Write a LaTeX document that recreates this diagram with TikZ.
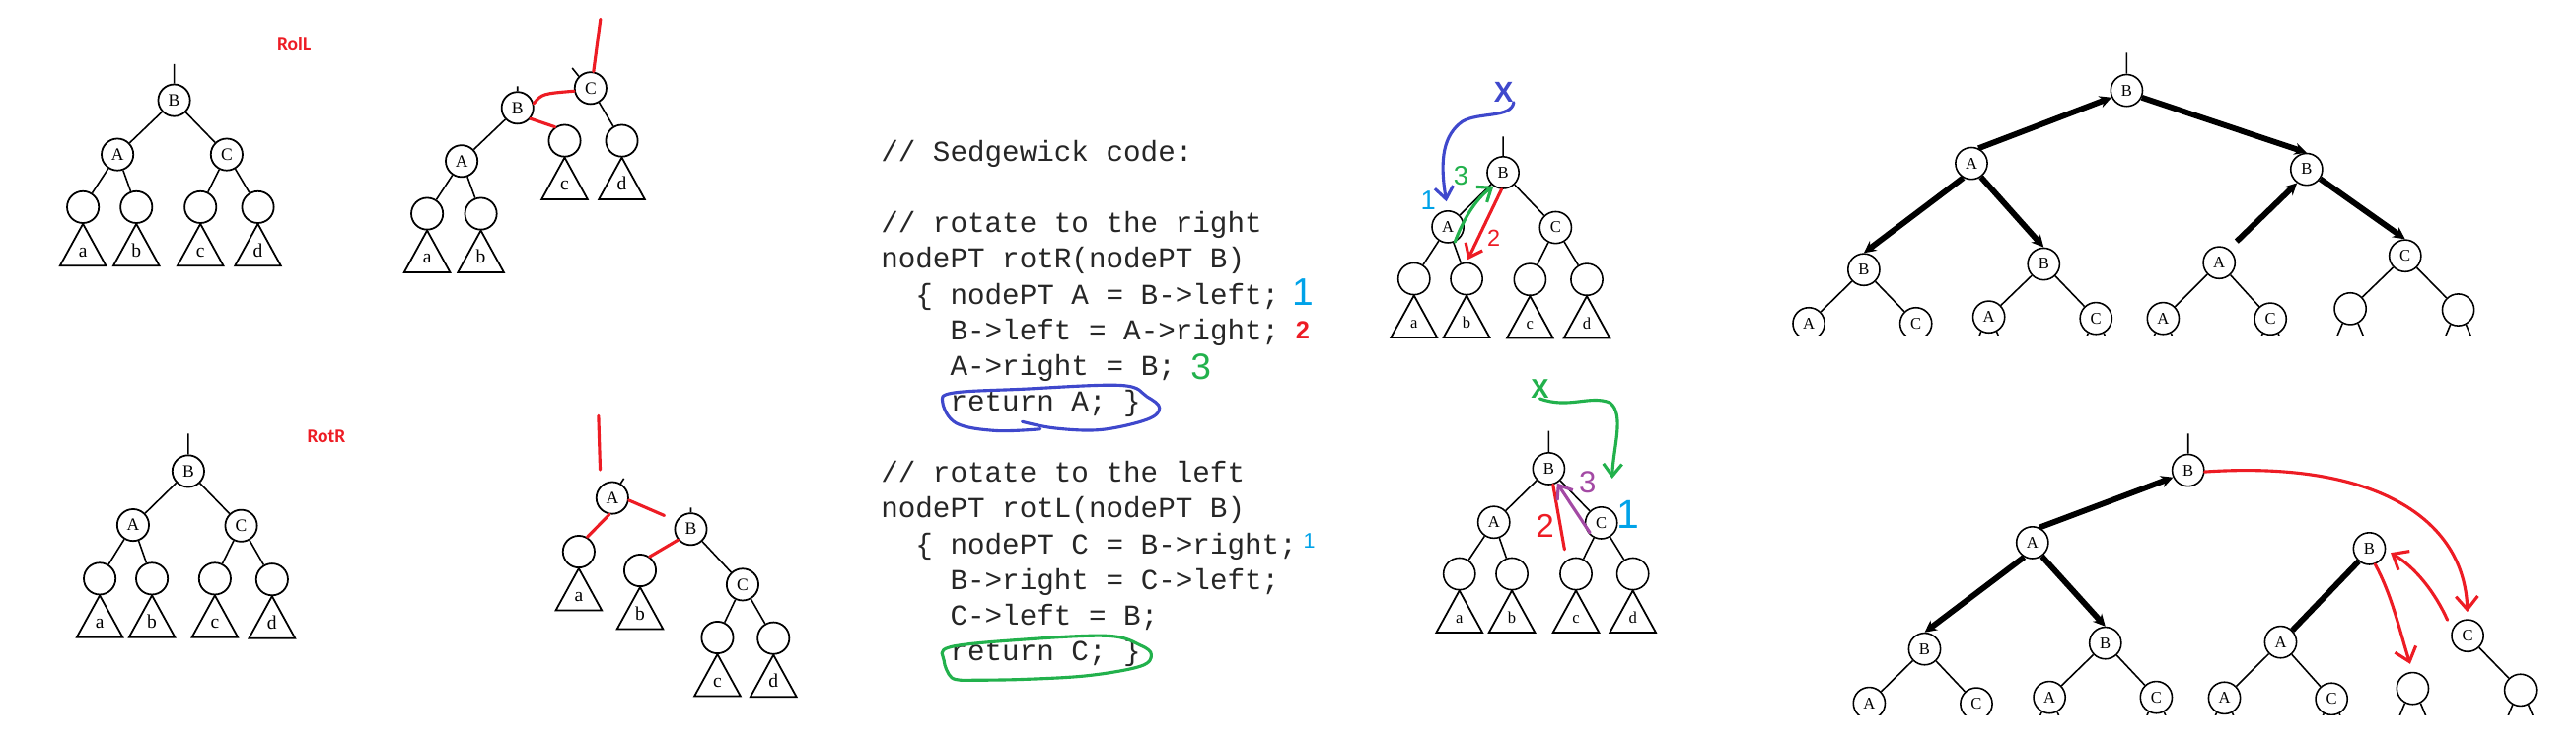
\documentclass[tikz,border=0pt]{standalone}
\usepackage{fontspec}
\setmainfont{Liberation Serif}
\setsansfont{Liberation Sans}
\newfontfamily\codefont{Liberation Mono}
\newfontfamily\tagfont{Carlito}
\usetikzlibrary{arrows.meta,calc}

\definecolor{pred}{RGB}{237,28,36}
\definecolor{pblue}{RGB}{63,72,204}
\definecolor{pcyan}{RGB}{0,162,232}
\definecolor{pgreen}{RGB}{34,177,76}
\definecolor{ppurple}{RGB}{163,73,164}

% triangle subtree under a leaf, with its label
\newcommand\subtri[3]{%
  \draw[tri] (#1.south) -- ++(-14,25.5) -- ++(28,0) -- cycle;
  \node[lbl] (#2) at ($(#1.south)+(0,20)$) {#3};}
% cut-off child links under a bottom node
\newcommand\stubs[1]{\draw[ln] (#1.-118) -- ++(-5,12) (#1.-62) -- ++(5,12);}

\begin{document}
\begin{tikzpicture}[x=0.3mm, y=-0.3mm,
    vx/.style={circle, draw, line width=0.9pt, minimum size=5.8mm, inner sep=0pt, font=\fontsize{9}{9}\selectfont},
    sv/.style={vx, line width=0.8pt, font=\fontsize{8.5}{8.5}\selectfont},
    tri/.style={line width=0.9pt},
    lbl/.style={anchor=base, inner sep=0pt, font=\fontsize{10}{10}\selectfont},
    ln/.style={line width=0.8pt},
    handline/.style={line width=1.6pt, line cap=round, line join=round},
    penarrow/.style={handline, -{Straight Barb[length=2.2mm,width=3.4mm]}},
    fatarrow/.style={line width=3pt, -{Stealth[length=2.2mm,width=2.2mm]}},
    codeline/.style={anchor=base west, inner sep=0pt, font=\codefont\fontsize{15}{18}\selectfont, text=black!85},
    digit/.style={inner sep=0pt, font=\sffamily\fontsize{#1}{#1}\selectfont},
    cross/.style={inner sep=0pt, font=\sffamily\bfseries\fontsize{#1}{#1}\selectfont},
    rlabel/.style={font=\tagfont\bfseries\fontsize{10}{10}\selectfont, text=pred}]

  \useasboundingbox (0,0) rectangle (1568,455);

  % ---- RolL: before
  \node[rlabel] (rolL) at (179,27) {RolL};
  \node[vx] (B1) at (106,61) {B};
  \node[vx] (A1) at (71.5,94) {A};
  \node[vx] (C1) at (138,94) {C};
  \node[vx] (a1) at (50.5,126) {};
  \node[vx] (b1) at (83,126) {};
  \node[vx] (c1) at (122,126) {};
  \node[vx] (d1) at (157,126) {};
  \coordinate (r1) at (106,39);
  \draw[ln] (r1) -- (B1) (B1) -- (A1) (B1) -- (C1) (A1) -- (a1) (A1) -- (b1) (C1) -- (c1) (C1) -- (d1);
  \subtri{a1}{la1}{a} \subtri{b1}{lb1}{b} \subtri{c1}{lc1}{c} \subtri{d1}{ld1}{d}

  % ---- RolL: after
  \node[vx] (C2) at (359.5,53.6) {C};
  \node[vx] (B2) at (315,65.6) {B};
  \node[vx] (A2) at (281,98) {A};
  \node[vx] (c2) at (343.7,85.6) {};
  \node[vx] (d2) at (378.5,85.6) {};
  \node[vx] (a2) at (260,130) {};
  \node[vx] (b2) at (292.7,130) {};
  \coordinate (r2) at (365.5,11.6);
  \draw[ln] (B2) -- (A2) (A2) -- (a2) (A2) -- (b2) (C2) -- (d2);
  \draw[ln] (C2.135) -- ++(-4,-5) (B2.north) -- ++(0,-3);
  \subtri{a2}{la2}{a} \subtri{b2}{lb2}{b} \subtri{c2}{lc2}{c} \subtri{d2}{ld2}{d}
  \draw[handline, pred] (r2) -- (C2.80);
  \draw[handline, pred] (B2.15) .. controls (330,57) .. (C2.190);
  \draw[handline, pred] (B2.-40) -- (c2.125);

  % ---- RotR: before
  \node[rlabel] (rotR) at (198.7,265.3) {RotR};
  \node[vx] (B3) at (114.6,286.6) {B};
  \node[vx] (A3) at (81,319.4) {A};
  \node[vx] (C3) at (146.8,319.8) {C};
  \node[vx] (a3) at (60.7,352) {};
  \node[vx] (b3) at (92.5,352) {};
  \node[vx] (c3) at (130.8,352) {};
  \node[vx] (d3) at (165.6,352.5) {};
  \coordinate (r3) at (114.6,263.7);
  \draw[ln] (r3) -- (B3) (B3) -- (A3) (B3) -- (C3) (A3) -- (a3) (A3) -- (b3) (C3) -- (c3) (C3) -- (d3);
  \subtri{a3}{la3}{a} \subtri{b3}{lb3}{b} \subtri{c3}{lc3}{c} \subtri{d3}{ld3}{d}

  % ---- RotR: after
  \node[vx] (A4) at (372.7,302.9) {A};
  \node[vx] (B4) at (420.5,321.9) {B};
  \node[vx] (C4) at (452,355.6) {C};
  \node[vx] (a4) at (352.3,335.6) {};
  \node[vx] (b4) at (389.6,347) {};
  \node[vx] (c4) at (436.7,387.8) {};
  \node[vx] (d4) at (470.8,388.2) {};
  \coordinate (r4a) at (364.3,252.9);
  \coordinate (r4b) at (365.3,285.8);
  \draw[ln] (B4) -- (C4) (C4) -- (c4) (C4) -- (d4);
  \draw[ln] (A4.60) -- ++(2,-3) (B4.north) -- ++(0,-3);
  \subtri{a4}{la4}{a} \subtri{b4}{lb4}{b} \subtri{c4}{lc4}{c} \subtri{d4}{ld4}{d}
  \draw[handline, pred] (r4a) -- (r4b);
  \draw[handline, pred, shorten >=2.4mm] (A4.-8) -- (B4.150);
  \draw[handline, pred] (A4.-100) -- (a4.60);
  \draw[handline, pred] (b4.55) -- (B4.220);

  % ---- code
  \node[codeline] (l1) at (536,98.1) {// Sedgewick code:};
  \node[codeline] (l2) at (536,141.5) {// rotate to the right};
  \node[codeline] (l3) at (536,163.2) {nodePT rotR(nodePT B)};
  \node[codeline] (l4) at (536,184.9) {~~\{ nodePT A = B->left;};
  \node[codeline] (l5) at (536,206.6) {~~~~B->left = A->right;};
  \node[codeline] (l6) at (536,228.3) {~~~~A->right = B;};
  \node[codeline] (l7) at (536,250) {~~~~return A; \}};
  \node[codeline] (l8) at (536,293.4) {// rotate to the left};
  \node[codeline] (l9) at (536,315.1) {nodePT rotL(nodePT B)};
  \node[codeline] (l10) at (536,336.8) {~~\{ nodePT C = B->right;};
  \node[codeline] (l11) at (536,358.5) {~~~~B->right = C->left;};
  \node[codeline] (l12) at (536,380.2) {~~~~C->left = B;};
  \node[codeline] (l13) at (536,401.9) {~~~~return C; \}};
  \node[digit=20, text=pcyan] (n1) at (793,178) {1};
  \node[cross=13, text=pred] (n2) at (793,201) {2};
  \node[digit=19, text=pgreen] (n3) at (731,223) {3};
  \node[digit=11, text=pcyan] (n4) at (797,329) {1};
  \draw[handline, pblue] plot[smooth, tension=0.6] coordinates {(633.2,261) (606.2,262) (582.2,257.5) (573.8,244.8) (580.2,239) (622.2,236.7) (682.2,234.4) (698.2,241.3) (705.8,248.2) (698.2,255.2) (670.2,261.4) (642.2,260.5) (622.2,256.5)};
  \draw[handline, pgreen] plot[smooth, tension=0.6] coordinates {(588.2,413.8) (579.2,412.2) (574.6,401.8) (578.2,393.7) (622.2,389.1) (674.2,386.8) (694.2,392.6) (700.8,398.3) (694.2,405.3) (662.2,411) (622.2,413.3) (588.2,413.8)};

  % ---- rotR traced
  \begin{scope}[lbl/.append style={font=\fontsize{8.5}{8.5}\selectfont}]
  \node[sv] (mB) at (914.9,105) {B};
  \node[sv] (mA) at (881.3,138) {A};
  \node[sv] (mC) at (946.9,138.4) {C};
  \node[sv] (ma) at (860.7,169.6) {};
  \node[sv] (mb) at (892.7,169.6) {};
  \node[sv] (mc) at (931.3,170) {};
  \node[sv] (md) at (965.9,170) {};
  \coordinate (rm) at (914.9,83);
  \draw[ln] (rm) -- (mB) (mB) -- (mA) (mB) -- (mC) (mA) -- (ma) (mA) -- (mb) (mC) -- (mc) (mC) -- (md);
  \subtri{ma}{lma}{a} \subtri{mb}{lmb}{b} \subtri{mc}{lmc}{c} \subtri{md}{lmd}{d}

  % ---- rotL traced
  \node[sv] (nB) at (942.7,285.1) {B};
  \node[sv] (nA) at (909.3,317.7) {A};
  \node[sv] (nC) at (974.7,318.1) {C};
  \node[sv] (na) at (888.3,349.1) {};
  \node[sv] (nb) at (920.3,349.1) {};
  \node[sv] (nc) at (959.3,349.1) {};
  \node[sv] (nd) at (993.9,349.1) {};
  \coordinate (rn) at (942.7,262.1);
  \draw[ln] (rn) -- (nB) (nB) -- (nA) (nB) -- (nC) (nA) -- (na) (nA) -- (nb) (nC) -- (nc) (nC) -- (nd);
  \subtri{na}{lna}{a} \subtri{nb}{lnb}{b} \subtri{nc}{lnc}{c} \subtri{nd}{lnd}{d}
  \end{scope}

  \node[cross=15, text=pblue] (xb) at (915.3,56) {X};
  \node[digit=14, text=pgreen] (m3) at (889.3,107) {3};
  \node[digit=14, text=pcyan] (m1) at (869.3,122) {1};
  \node[digit=12, text=pred] (m2) at (909.3,145) {2};
  \draw[penarrow, pblue, shorten >=1.6mm] (xb.south east) .. controls (920,72) and (900,68) .. (890,74) .. controls (879,82) and (876,96) .. (mA.north);
  \draw[penarrow, pgreen] (mA.-65) .. controls (890,135) and (898,121) .. (mB.235);
  \draw[penarrow, pred, shorten >=0.5mm] (mB.-95) -- (mb.north);

  \node[cross=14, text=pgreen] (xg) at (937.3,236.6) {X};
  \node[digit=16, text=ppurple] (p3) at (966.3,293.1) {3};
  \node[digit=21, text=pcyan] (p1) at (991.3,313.1) {1};
  \node[digit=17, text=pred] (p2) at (940.5,320) {2};
  \coordinate (gEnd) at (981.3,291.1);
  \draw[penarrow, pgreen] (xg.south) .. controls (955,249) and (968,240) .. (980,245) .. controls (989,252) and (982,272) .. (gEnd);
  \draw[handline, pred, shorten >=2mm] (nB.-75) -- (nc.125);
  \draw[penarrow, ppurple, shorten <=1mm] (nC.240) -- (nB.-60);

  % ---- recursion, top frame
  \begin{scope}
  \clip (1080,0) rectangle (1568,204);
  \node[sv] (tB) at (1294.5,55) {B};
  \node[sv] (tA) at (1200,99.4) {A};
  \node[sv] (tB2) at (1404,103) {B};
  \node[sv] (tB3) at (1134.5,164) {B};
  \node[sv] (tB4) at (1244,160.6) {B};
  \node[sv] (tA5) at (1350.8,159.8) {A};
  \node[sv] (tC6) at (1464,155.6) {C};
  \node[sv] (tl1) at (1101,196.8) {A};
  \node[sv] (tl2) at (1166.2,196.8) {C};
  \node[sv] (tl3) at (1210.6,192.8) {A};
  \node[sv] (tl4) at (1275.8,193.7) {C};
  \node[sv] (tl5) at (1316.7,193.7) {A};
  \node[sv] (tl6) at (1382,194) {C};
  \node[sv] (tl7) at (1430.6,187.8) {};
  \node[sv] (tl8) at (1496.3,188.5) {};
  \coordinate (rt) at (1294.5,32);
  \draw[ln] (rt) -- (tB) (tB3) -- (tl1) (tB3) -- (tl2) (tB4) -- (tl3) (tB4) -- (tl4)
    (tA5) -- (tl5) (tA5) -- (tl6) (tC6) -- (tl7) (tC6) -- (tl8);
  \foreach \n in {tl1,tl2,tl3,tl4,tl5,tl6,tl7,tl8} {\stubs{\n}}
  \draw[fatarrow] (tA.65) -- (tB.205);
  \draw[fatarrow] (tA.240) -- (tB3.north);
  \draw[fatarrow] (tA.-55) -- (tB4.north);
  \draw[fatarrow] (tB.-25) -- (tB2.north);
  \draw[fatarrow, shorten <=2mm] (tA5.55) -- (tB2.235);
  \draw[fatarrow] (tB2.-35) -- (tC6.north);
  \end{scope}

  % ---- recursion, bottom frame
  \begin{scope}
  \clip (1080,240) rectangle (1568,435);
  \node[sv] (uB) at (1331.9,286.1) {B};
  \node[sv] (uA) at (1237.1,330.1) {A};
  \node[sv] (uB2) at (1442.2,333.7) {B};
  \node[sv] (uB3) at (1171.5,394.8) {B};
  \node[sv] (uB4) at (1281.5,391.2) {B};
  \node[sv] (uA5) at (1388.2,390.6) {A};
  \node[sv] (uC) at (1502,386.7) {C};
  \node[sv] (ul1) at (1137.8,427.8) {A};
  \node[sv] (ul2) at (1203,428.1) {C};
  \node[sv] (ul3) at (1247.5,424.2) {A};
  \node[sv] (ul4) at (1312.5,424.2) {C};
  \node[sv] (ul5) at (1354,424.6) {A};
  \node[sv] (ul6) at (1419.2,425.2) {C};
  \node[sv] (ul7) at (1468.6,418.8) {};
  \node[sv] (ul8) at (1534.2,419.8) {};
  \coordinate (ru) at (1331.9,263.7);
  \draw[ln] (ru) -- (uB) (uB3) -- (ul1) (uB3) -- (ul2) (uB4) -- (ul3) (uB4) -- (ul4)
    (uA5) -- (ul5) (uA5) -- (ul6) (uC) -- (ul8);
  \foreach \n in {ul1,ul2,ul3,ul4,ul5,ul6,ul7,ul8} {\stubs{\n}}
  \draw[fatarrow] (uA.65) -- (uB.205);
  \draw[fatarrow] (uA.240) -- (uB3.north);
  \draw[fatarrow] (uA.-55) -- (uB4.north);
  \draw[line width=3pt] (uA5.45) -- (uB2.230);
  \draw[handline, pred, -{Straight Barb[length=2.4mm,width=4mm]}, shorten >=1.3mm] (uB.-5) .. controls (1445,280) and (1500,315) .. (uC.north);
  \draw[handline, pred, -{Straight Barb[length=2.4mm,width=4mm]}, shorten >=1.5mm] (uB2.-70) .. controls (1456,362) and (1461,385) .. (ul7.north);
  \draw[handline, pred, -{Straight Barb[length=2.4mm,width=4mm]}, shorten <=2mm, shorten >=1mm] (uC.160) .. controls (1482,360) and (1470,345) .. (uB2.-5);
  \end{scope}
\end{tikzpicture}
\end{document}
